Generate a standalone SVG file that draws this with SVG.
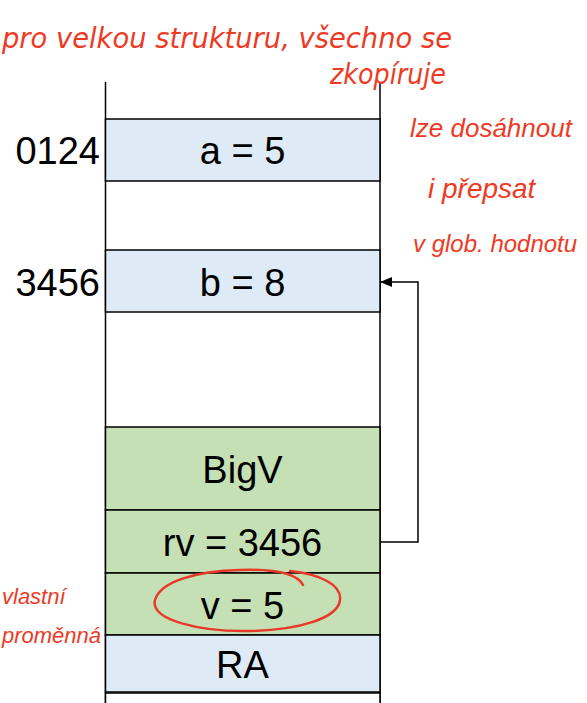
<svg xmlns="http://www.w3.org/2000/svg" width="587" height="703" viewBox="0 0 587 703">
<style>
.cell{stroke:#000;stroke-width:1.5}
.blue{fill:#deebf7}
.green{fill:#c5e0b4}
.white{fill:#fff}
.lbl{font-family:"Liberation Sans",Arial,sans-serif;font-size:38px;fill:#000;text-anchor:middle}
.addr{font-family:"Liberation Sans",Arial,sans-serif;font-size:38px;fill:#000;text-anchor:end}
.hand{font-family:"DejaVu Sans","Liberation Sans",sans-serif;font-style:italic;fill:#ee3a24;font-size:28px}
.hand2{font-family:"Liberation Sans",Arial,sans-serif;font-style:italic;fill:#ee3a24}
.conn{fill:none;stroke:#000;stroke-width:1.5}
</style>
<defs>
<marker id="ah" viewBox="0 0 12 10" refX="11" refY="5" markerWidth="12" markerHeight="10" markerUnits="userSpaceOnUse" orient="auto">
<path d="M0,0 L12,5 L0,10 z" fill="#000"/>
</marker>
</defs>
<rect width="587" height="703" fill="#fff"/>
<g id="stack-walls">
<line x1="105.5" y1="82" x2="105.5" y2="703" class="cell"/>
<line x1="380" y1="82" x2="380" y2="703" class="cell"/>
</g>
<g id="cell-a">
<rect x="105.5" y="119" width="274.5" height="62" class="cell blue"/>
<text x="242.5" y="164" class="lbl">a = 5</text>
<text x="100" y="164" class="addr">0124</text>
</g>
<g id="cell-b">
<rect x="105.5" y="250" width="274.5" height="62" class="cell blue"/>
<text x="242.5" y="296" class="lbl">b = 8</text>
<text x="100" y="296" class="addr">3456</text>
</g>
<g id="cell-bigv">
<rect x="105.5" y="427" width="274.5" height="83" class="cell green"/>
<text x="242.5" y="483" class="lbl">BigV</text>
</g>
<g id="cell-rv">
<rect x="105.5" y="510" width="274.5" height="63" class="cell green"/>
<text x="242.5" y="556" class="lbl">rv = 3456</text>
</g>
<g id="cell-v">
<rect x="105.5" y="573" width="274.5" height="62" class="cell green"/>
<text x="242.5" y="619" class="lbl">v = 5</text>
</g>
<g id="cell-ra">
<rect x="105.5" y="635" width="274.5" height="57" class="cell blue"/>
<text x="242.5" y="678" class="lbl">RA</text>
</g>
<g id="cell-below">
<rect x="105.5" y="693" width="274.5" height="20" class="cell white"/>
</g>
<g id="connectors">
<path d="M380,542 H418 V282 H381" class="conn" marker-end="url(#ah)"/>
</g>
<g id="annotations">
<path d="M303,585 C296,572 270,569 240,570 C195,571 160,582 155,600 C150,620 200,632 250,631 C300,630 338,618 340,600 C342,585 320,574 290,571" fill="none" stroke="#e8392a" stroke-width="2.5" stroke-linecap="round"/>
<text x="2" y="48" class="hand" textLength="450" lengthAdjust="spacingAndGlyphs">pro velkou strukturu, všechno se</text>
<text x="330" y="84" class="hand" textLength="116" lengthAdjust="spacingAndGlyphs">zkopíruje</text>
<text x="410" y="137" class="hand2" font-size="26">lze dosáhnout</text>
<text x="428" y="198" class="hand2" font-size="28">i přepsat</text>
<text x="413" y="252" class="hand2" font-size="24">v glob. hodnotu</text>
<text x="2" y="604" class="hand2" font-size="22">vlastní</text>
<text x="2" y="643" class="hand2" font-size="22">proměnná</text>
</g>
</svg>
